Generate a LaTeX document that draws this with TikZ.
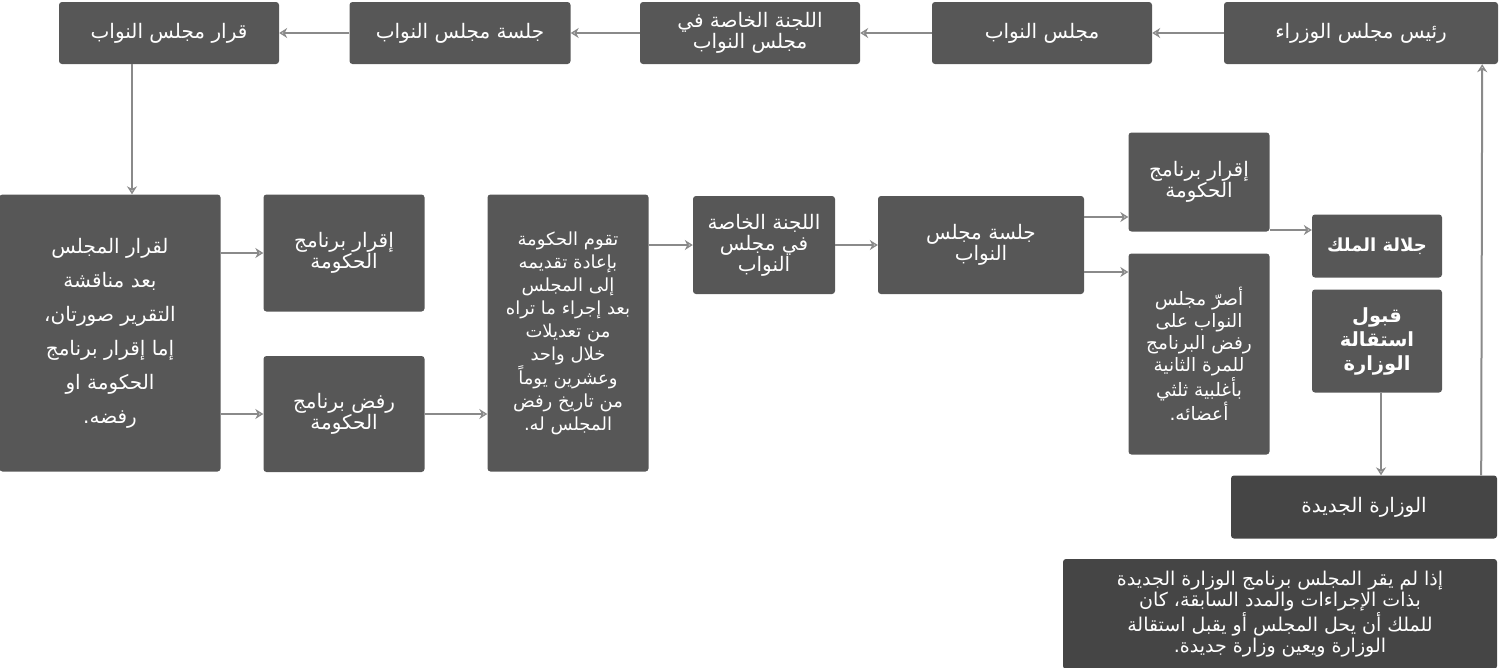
\documentclass[tikz,border=0pt]{standalone}
\usepackage{fontspec}
\newfontfamily\arabicfont[Script=Arabic]{DejaVu Sans}
\TeXXeTstate=1
\newcommand\rl[1]{\beginR #1\endR}
\usetikzlibrary{arrows.meta}
\definecolor{boxgray}{HTML}{575757}
\definecolor{darkgray}{HTML}{454545}
\definecolor{linegray}{HTML}{8A8A8A}
\tikzset{
  box/.style={fill=boxgray, rounded corners=3pt, text=white, align=center,
    inner sep=2pt, font=\arabicfont\fontsize{20}{21}\selectfont},
  darkbox/.style={box, fill=darkgray},
  arr/.style={draw=linegray, line width=2pt, -{Stealth[length=8pt,width=10pt,open]}},
}
\begin{document}
\begin{tikzpicture}[x=1pt,y=-1pt]
\useasboundingbox (0,0) rectangle (1500,667);

% top row
\node[box, minimum width=274, minimum height=62] (pm) at (1361,33) {\rl{رئيس مجلس الوزراء}};
\node[box, minimum width=220, minimum height=62] (nuwab) at (1042,33) {\rl{مجلس النواب}};
\node[box, minimum width=220, minimum height=62] (lajna) at (750,33) {\rl{اللجنة الخاصة في}\\\rl{مجلس النواب}};
\node[box, minimum width=221, minimum height=62] (jalsa) at (460,33) {\rl{جلسة مجلس النواب}};
\node[box, minimum width=220, minimum height=62] (qarar) at (169,33) {\rl{قرار مجلس النواب}};

% middle
\node[box, minimum width=221, minimum height=277, font=\arabicfont\fontsize{20}{34}\selectfont] (decide) at (110,333)
  {\rl{لقرار المجلس}\\\rl{بعد مناقشة}\\\rl{التقرير صورتان،}\\\rl{إما إقرار برنامج}\\\rl{الحكومة او}\\\rl{رفضه.}};
\node[box, minimum width=161, minimum height=117] (approve) at (344,253) {\rl{إقرار برنامج}\\\rl{الحكومة}};
\node[box, minimum width=161, minimum height=116] (reject) at (344,414) {\rl{رفض برنامج}\\\rl{الحكومة}};
\node[box, minimum width=161, minimum height=277, font=\arabicfont\fontsize{18}{23}\selectfont] (resubmit) at (568,333)
  {\rl{تقوم الحكومة}\\\rl{بإعادة تقديمه}\\\rl{إلى المجلس}\\\rl{بعد إجراء ما تراه}\\\rl{من تعديلات}\\\rl{خلال واحد}\\\rl{وعشرين يوماً}\\\rl{من تاريخ رفض}\\\rl{المجلس له.}};
\node[box, minimum width=142, minimum height=98] (lajnatwo) at (764,245) {\rl{اللجنة الخاصة}\\\rl{في مجلس}\\\rl{النواب}};
\node[box, minimum width=206, minimum height=98] (jalsatwo) at (981,245) {\rl{جلسة مجلس}\\\rl{النواب}};
\node[box, minimum width=141, minimum height=99] (approvetwo) at (1199,182) {\rl{إقرار برنامج}\\\rl{الحكومة}};
\node[box, minimum width=141, minimum height=201, font=\arabicfont\fontsize{18.5}{22}\selectfont] (insist) at (1199,354)
  {\rl{أصرّ مجلس}\\\rl{النواب على}\\\rl{رفض البرنامج}\\\rl{للمرة الثانية}\\\rl{بأغلبية ثلثي}\\\rl{أعضائه.}};
\node[box, minimum width=130, minimum height=63, font=\arabicfont\bfseries\fontsize{18}{20}\selectfont] (king) at (1377,246) {\rl{جلالة الملك}};
\node[box, minimum width=130, minimum height=103, font=\arabicfont\bfseries\fontsize{19.5}{24}\selectfont] (resign) at (1377,341) {\rl{قبول}\\\rl{استقالة}\\\rl{الوزارة}};
\node[darkbox, minimum width=266, minimum height=63] (newgov) at (1364,507) {\rl{الوزارة الجديدة}};
\node[darkbox, minimum width=434, minimum height=110, font=\arabicfont\fontsize{19}{21}\selectfont] (note) at (1280,614)
  {\rl{إذا لم يقر المجلس برنامج الوزارة الجديدة}\\\rl{بذات الإجراءات والمدد السابقة، كان}\\\rl{للملك أن يحل المجلس أو يقبل استقالة}\\\rl{الوزارة ويعين وزارة جديدة.}};

% connectors
\draw[arr] (pm) -- (nuwab);
\draw[arr] (nuwab) -- (lajna);
\draw[arr] (lajna) -- (jalsa);
\draw[arr] (jalsa) -- (qarar);
\draw[arr] ([xshift=-37]qarar.south) -- ([xshift=-37]qarar.south |- decide.north);
\draw[arr] (decide.east |- approve) -- (approve);
\draw[arr] (decide.east |- reject) -- (reject);
\draw[arr] (reject) -- (reject -| resubmit.west);
\draw[arr] (resubmit.east |- lajnatwo) -- (lajnatwo);
\draw[arr] (lajnatwo) -- (jalsatwo);
\draw[arr] ([yshift=-27]jalsatwo.east) -- ([yshift=-27]jalsatwo.east -| approvetwo.west);
\draw[arr] ([yshift=28]jalsatwo.east) -- ([yshift=28]jalsatwo.east -| insist.west);
\draw[arr] ([yshift=16]king.west -| insist.east) -- ([yshift=16]king.west);
\draw[arr] ([xshift=4]resign.south) -- ([xshift=4]resign.south |- newgov.north);
\draw[arr] ([xshift=-16]newgov.north east) -- ([xshift=-16]pm.south east);

\end{tikzpicture}
\end{document}
